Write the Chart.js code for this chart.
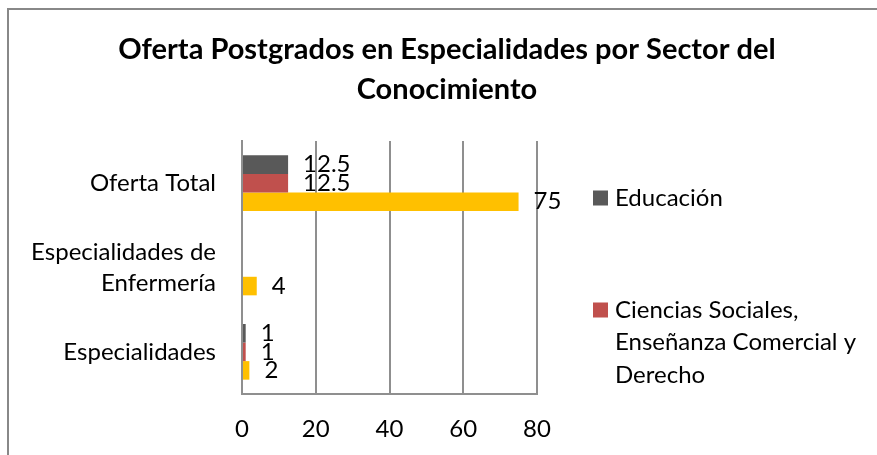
<!DOCTYPE html>
<html>
<head>
<meta charset="utf-8">
<script src="https://cdn.jsdelivr.net/npm/chart.js@4.4.1/dist/chart.umd.min.js"></script>
<style>
  html, body { margin: 0; padding: 0; background: #fff; }
  canvas { display: block; }
</style>
</head>
<body>
<canvas id="chart" width="877" height="455"></canvas>
<script>
// chart data
const categories = ["Oferta Total", ["Especialidades de", "Enfermería"], "Especialidades"];
const educacion = [12.5, null, 1];
const cienciasSociales = [12.5, null, 1];
const salud = [75, 4, 2];
const seriesNames = ["Educación", "Ciencias Sociales, Enseñanza Comercial y Derecho", "Salud y Servicios Sociales"];
const seriesColors = ["#595959", "#C0504D", "#FFC000"];
const xTicks = [0, 20, 40, 60, 80];
const titleLines = ["Oferta Postgrados en Especialidades por Sector del", "Conocimiento"];

const FONT = "Lato";
const GRID = "#8f8f8f";

// labels, title, legend and frame drawn on the canvas
const decor = {
  id: "decor",
  beforeDraw(chart) {
    const ctx = chart.ctx;
    ctx.save();
    ctx.strokeStyle = "#888";
    ctx.lineWidth = 2;
    ctx.beginPath();
    ctx.moveTo(8, chart.height);
    ctx.lineTo(8, 9);
    ctx.lineTo(chart.width, 9);
    ctx.stroke();
    ctx.restore();
  },
  afterDatasetsDraw(chart) {
    const ctx = chart.ctx;
    ctx.save();
    ctx.font = "24px " + FONT;
    ctx.fillStyle = "#000";
    ctx.textAlign = "left";
    ctx.textBaseline = "middle";
    chart.data.datasets.forEach((ds, i) => {
      chart.getDatasetMeta(i).data.forEach((bar, j) => {
        const v = ds.data[j];
        if (v === null) return;
        ctx.fillText(String(v), bar.x + 15, bar.y);
      });
    });
    ctx.restore();
  },
  afterDraw(chart) {
    const ctx = chart.ctx;
    ctx.save();
    // title
    ctx.font = "bold 29px " + FONT;
    ctx.fillStyle = "#000";
    ctx.textAlign = "center";
    ctx.textBaseline = "middle";
    titleLines.forEach((line, i) => ctx.fillText(line, 447, 50 + i * 40));

    // legend, wrapped into lines
    ctx.font = "24px " + FONT;
    ctx.textAlign = "left";
    const maxW = 260;
    let y = 198;
    chart.data.datasets.forEach((ds) => {
      const words = ds.label.split(" ");
      const lines = [];
      let cur = "";
      words.forEach((w) => {
        const test = cur ? cur + " " + w : w;
        if (cur && ctx.measureText(test).width > maxW) {
          lines.push(cur);
          cur = w;
        } else {
          cur = test;
        }
      });
      lines.push(cur);
      ctx.fillStyle = ds.backgroundColor;
      ctx.fillRect(593, y - 7.5, 15, 15);
      ctx.fillStyle = "#000";
      lines.forEach((l, k) => ctx.fillText(l, 615, y + k * 32.5));
      y += lines.length * 32.5 + 79.5;
    });
    ctx.restore();
  },
};

const ctx = document.getElementById("chart").getContext("2d");
new Chart(ctx, {
  type: "bar",
  data: {
    labels: categories,
    datasets: [
      { label: seriesNames[0], data: educacion, backgroundColor: seriesColors[0] },
      { label: seriesNames[1], data: cienciasSociales, backgroundColor: seriesColors[1] },
      { label: seriesNames[2], data: salud, backgroundColor: seriesColors[2] },
    ],
  },
  options: {
    indexAxis: "y",
    responsive: false,
    animation: false,
    devicePixelRatio: 1,
    categoryPercentage: 0.66,
    barPercentage: 1.0,
    layout: { padding: { top: 141, right: 340, bottom: 13, left: 0 } },
    scales: {
      x: {
        min: xTicks[0],
        max: xTicks[xTicks.length - 1],
        ticks: { stepSize: xTicks[1] - xTicks[0], color: "#000", font: { family: FONT, size: 24 }, padding: 21 },
        grid: { color: GRID, lineWidth: 2, drawTicks: false },
        border: { display: true, color: GRID, width: 2 },
        afterFit(scale) { scale.height = 48; },
      },
      y: {
        ticks: { color: "#000", font: { family: FONT, size: 24, lineHeight: 1.3 }, padding: 26 },
        grid: { display: false, drawTicks: false },
        border: { display: true, color: GRID, width: 2 },
        afterFit(scale) { scale.width = 242; },
      },
    },
    plugins: {
      legend: { display: false },
      tooltip: { enabled: false },
      title: { display: false },
    },
  },
  plugins: [decor],
});
</script>
</body>
</html>
